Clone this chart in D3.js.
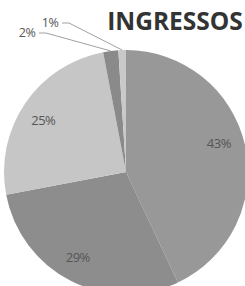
<!DOCTYPE html>
<html><head><meta charset="utf-8">
<script src="https://cdn.jsdelivr.net/npm/d3@7"></script>
<style>html,body{margin:0;padding:0;background:#fff;overflow:hidden}</style>
</head><body>
<svg id="c" width="245" height="286"></svg>
<script>
const categories = ["A", "B", "C", "D", "E"];
const values = [43, 29, 25, 2, 1];
const labels = ["43%", "29%", "25%", "2%", "1%"];
const colors = ["#989898", "#8d8d8d", "#c6c6c6", "#8a8a8a", "#c9c9c9"];
const title = "INGRESSOS";

const svg = d3.select("#c");
const cx = 126, cy = 172, r = 122;
const pie = d3.pie().sort(null).value(d => d)(values);
const arc = d3.arc().innerRadius(0).outerRadius(r);
const g = svg.append("g").attr("transform", `translate(${cx},${cy})`);
g.selectAll("path").data(pie).join("path")
  .attr("d", arc).attr("fill", (d, i) => colors[i]);

// inside labels
const labArc = d3.arc().innerRadius(r * 0.78).outerRadius(r * 0.78);
const inside = [0, 1, 2];
const labOff = {0: [0, -8], 1: [-5, 0], 2: [-4, 1]};
g.selectAll("text.in").data(inside).join("text")
  .attr("class", "in")
  .attr("x", i => labArc.centroid(pie[i])[0] + labOff[i][0])
  .attr("y", i => labArc.centroid(pie[i])[1] + labOff[i][1])
  .attr("text-anchor", "middle").attr("dominant-baseline", "central")
  .attr("font-family", "Open Sans, sans-serif").attr("font-size", 13)
  .attr("letter-spacing", -0.5)
  .attr("fill", "#555").text(i => labels[i]);

// outside labels with leader lines
const outPos = {3: [27, 32], 4: [50, 22]};
[3, 4].forEach(i => {
  const a = (pie[i].startAngle + pie[i].endAngle) / 2;
  const px = cx + Math.sin(a) * r, py = cy - Math.cos(a) * r;
  const [lx, ly] = outPos[i];
  const sx = lx + 12;
  svg.append("polyline")
    .attr("points", `${sx},${ly + 1} ${sx + 7},${ly + 1} ${px},${py}`)
    .attr("fill", "none").attr("stroke", "#888").attr("stroke-width", 0.8);
  svg.append("text").attr("x", lx).attr("y", ly)
    .attr("text-anchor", "middle").attr("dominant-baseline", "central")
    .attr("font-family", "Open Sans, sans-serif").attr("font-size", 12.5)
    .attr("letter-spacing", -0.5)
    .attr("fill", "#555").text(labels[i]);
});

svg.append("text").attr("x", 175).attr("y", 20)
  .attr("text-anchor", "middle").attr("dominant-baseline", "central")
  .attr("font-family", "Open Sans, sans-serif").attr("font-weight", "bold")
  .attr("font-size", 24.5).attr("fill", "#333").text(title);
</script>
</body></html>
